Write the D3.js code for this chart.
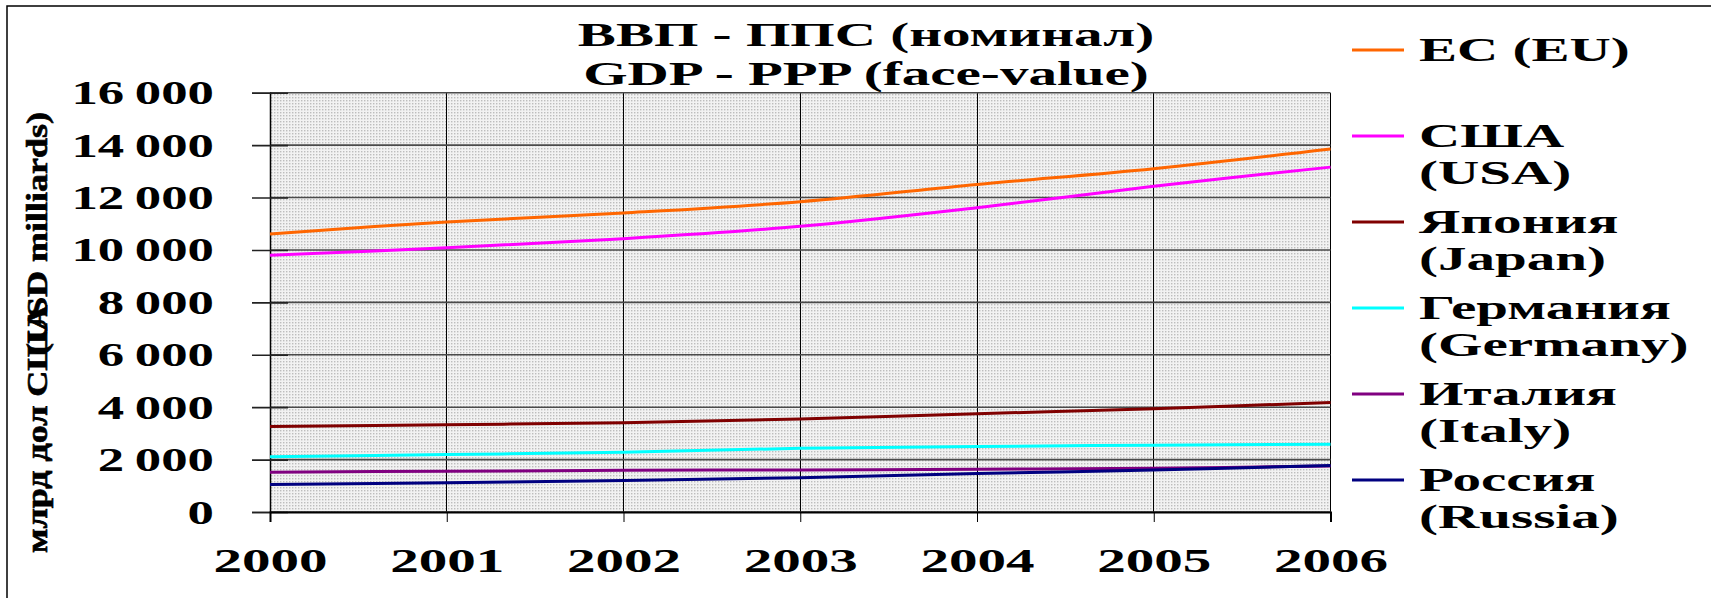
<!DOCTYPE html>
<html>
<head>
<meta charset="utf-8">
<script src="https://cdnjs.cloudflare.com/ajax/libs/d3/7.8.5/d3.min.js"></script>
<style>
  body { margin: 0; background: #fff; }
  svg { display: block; font-family: "Liberation Serif", "Times New Roman", serif; font-weight: bold; }
</style>
</head>
<body>
<svg id="chart"></svg>
<script>
// GDP PPP, billions USD
const years = [2000, 2001, 2002, 2003, 2004, 2005, 2006];
const eu = [10610, 11070, 11410, 11840, 12500, 13100, 13850];
const usa = [9800, 10080, 10430, 10900, 11610, 12430, 13160];
const japan = [3260, 3330, 3410, 3550, 3750, 3940, 4180];
const germany = [2110, 2190, 2280, 2430, 2500, 2550, 2590];
const italy = [1520, 1555, 1590, 1605, 1630, 1670, 1755];
const russia = [1045, 1120, 1200, 1310, 1465, 1605, 1770];
const seriesNames = [
  ["ЕС (EU)"],
  ["США", "(USA)"],
  ["Япония", "(Japan)"],
  ["Германия", "(Germany)"],
  ["Италия", "(Italy)"],
  ["Россия", "(Russia)"],
];
const yTicks = [0, 2000, 4000, 6000, 8000, 10000, 12000, 14000, 16000];
const titleLines = ["ВВП - ППС (номинал)", "GDP - PPP (face-value)"];
const yLabel = ["млрд дол США", "(USD milliards)"];

const colors = ["#ff6600", "#ff00ff", "#800000", "#00ffff", "#800080", "#000080"];
const series = [eu, usa, japan, germany, italy, russia];

const W = 1711, H = 598;
const fontSize = 33;
const stretch = 1.73; // the source chart has horizontally widened lettering

const svg = d3.select("#chart").attr("width", W).attr("height", H);

const x = d3.scaleLinear().domain([2000, 2006]).range([270, 1330.5]);
const y = d3.scaleLinear().domain([0, 16000]).range([512, 92.7]);

// thousands split by a thin space
const fmt = d3.formatLocale({ decimal: ",", thousands: "\u2009", grouping: [3], currency: ["", ""] }).format(",d");

// wide text helper
function wideText(g, tx, ty, str, anchor) {
  return g.append("text")
    .attr("transform", `translate(${tx},${ty}) scale(${stretch},1)`)
    .attr("text-anchor", anchor)
    .attr("font-size", fontSize)
    .attr("fill", "#000")
    .text(str);
}

// outer frame
svg.append("rect")
  .attr("x", 7).attr("y", 6)
  .attr("width", W + 20).attr("height", H + 20)
  .attr("fill", "none").attr("stroke", "#000").attr("stroke-width", 1.5);

// dotted plot background
const defs = svg.append("defs");
const pat = defs.append("pattern")
  .attr("id", "dots").attr("width", 3).attr("height", 3)
  .attr("patternUnits", "userSpaceOnUse");
pat.append("rect").attr("width", 3).attr("height", 3).attr("fill", "#f2f2f2");
pat.append("rect").attr("x", 1).attr("y", 1).attr("width", 1.4).attr("height", 1.4).attr("fill", "#bdbdbd");

svg.append("rect")
  .attr("x", x(2000)).attr("y", y(16000))
  .attr("width", x(2006) - x(2000)).attr("height", y(0) - y(16000))
  .attr("fill", "url(#dots)");

// vertical grid
svg.append("g").selectAll("line").data(years).enter().append("line")
  .attr("x1", (d) => x(d)).attr("x2", (d) => x(d))
  .attr("y1", y(16000)).attr("y2", y(0))
  .attr("stroke", "#000").attr("stroke-width", 1)
  .attr("shape-rendering", "crispEdges");

// horizontal grid
svg.append("g").selectAll("line").data(yTicks).enter().append("line")
  .attr("x1", x(2000)).attr("x2", x(2006))
  .attr("y1", (d) => y(d)).attr("y2", (d) => y(d))
  .attr("stroke", "#4a4a4a").attr("stroke-width", 1.6);

// y axis, ticks cross the axis line
const yAxis = svg.append("g")
  .attr("transform", `translate(${x(2000)},0)`)
  .call(d3.axisLeft(y).tickValues(yTicks).tickSize(18).tickFormat(fmt))
  .attr("font-family", null).attr("font-size", null);
yAxis.select(".domain").attr("stroke", "#000").attr("stroke-width", 1.5);
yAxis.selectAll(".tick line").attr("x1", 18).attr("stroke", "#222").attr("stroke-width", 1.6);
yAxis.selectAll(".tick text")
  .attr("x", null).attr("dy", null)
  .attr("transform", `translate(-56,11) scale(1.6,1)`)
  .attr("font-size", fontSize).attr("fill", "#000");

// x axis
const xAxis = svg.append("g")
  .attr("transform", `translate(0,${y(0)})`)
  .call(d3.axisBottom(x).tickValues(years).tickSize(10).tickFormat(d3.format("d")))
  .attr("font-family", null).attr("font-size", null);
xAxis.select(".domain").attr("stroke", "#000").attr("stroke-width", 2);
xAxis.selectAll(".tick line").attr("stroke", "#000");
xAxis.selectAll(".tick text")
  .attr("y", null).attr("dy", null)
  .attr("transform", `translate(0,60) scale(${stretch},1)`)
  .attr("font-size", fontSize).attr("fill", "#000");

// lines (smoothed like the spreadsheet original)
const line = d3.line()
  .x((d, i) => x(years[i]))
  .y((d) => y(d))
  .curve(d3.curveCardinal.tension(0));

svg.append("g").selectAll("path").data(series).enter().append("path")
  .attr("d", line)
  .attr("fill", "none")
  .attr("stroke", (d, i) => colors[i])
  .attr("stroke-width", 3);

// title
const title = svg.append("g");
titleLines.forEach((t, i) => wideText(title, 866, 46 + i * 39, t, "middle"));

// y label: two strings printed over each other like the original,
// squashed across and thickened like the source
const yl = svg.append("g")
  .attr("font-size", 36).attr("font-weight", "bold")
  .attr("stroke", "#000").attr("stroke-width", 0.8);
yl.append("text")
  .attr("transform", "translate(47,553) rotate(-90) scale(1,0.82)")
  .attr("text-anchor", "start")
  .text(yLabel[0]);
yl.append("text")
  .attr("transform", "translate(47,112) rotate(-90) scale(1,0.82)")
  .attr("text-anchor", "end")
  .text(yLabel[1]);

// legend
const legend = svg.append("g");
seriesNames.forEach((lines, i) => {
  const ly = 50 + i * 86;
  legend.append("line")
    .attr("x1", 1352).attr("x2", 1404)
    .attr("y1", ly).attr("y2", ly)
    .attr("stroke", colors[i]).attr("stroke-width", 3);
  lines.forEach((t, j) => wideText(legend, 1419, ly + 11 + j * 37, t, "start"));
});
</script>
</body>
</html>
